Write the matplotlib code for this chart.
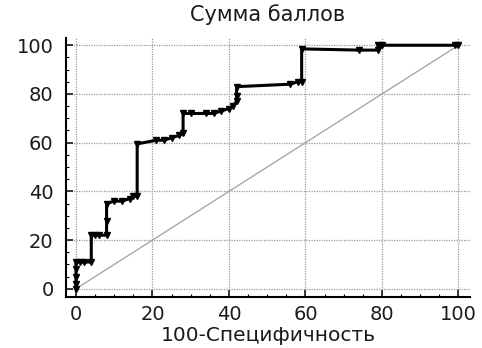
import numpy as np
import matplotlib
matplotlib.use("Agg")
import matplotlib.pyplot as plt
from matplotlib.ticker import MultipleLocator

# ----------------- data -----------------
fpr = [0, 0, 0, 0, 0, 1, 2, 4, 4, 5, 6, 8, 8, 8, 10, 12, 14, 15, 16,
       16, 21, 23, 25, 27, 28, 28, 30, 34, 36, 38, 40, 41, 42, 42, 42,
       56, 58, 59, 59, 74, 79, 79, 80, 99, 100]
tpr = [0, 2, 5, 8, 11, 11, 11, 11, 22, 22, 22, 22, 28, 35, 36, 36, 37, 38, 38,
       59.5, 61, 61, 62, 63, 64, 72, 72, 72, 72, 73, 74, 75, 77, 79, 83,
       84, 85, 85, 98.5, 98, 98, 100, 100, 100, 100]

title = "Сумма баллов"
xlabel = "100-Специфичность"
ticks = [0, 20, 40, 60, 80, 100]

plt.rcParams["font.family"] = ["DejaVu Sans"]

fig = plt.figure(figsize=(4.82, 3.48), dpi=100)
ax = fig.add_axes([0.137, 0.147, 0.838, 0.744])

ax.plot([0, 100], [0, 100], color="#a0a0a0", lw=0.9, zorder=2)
ax.plot(fpr, tpr, color="black", lw=2.2, marker="v", ms=5,
        mfc="black", mec="black", zorder=3)

ax.set_xlim(-2.6, 103)
ax.set_ylim(-3.3, 103)
ax.set_xticks(ticks)
ax.set_yticks(ticks)
ax.xaxis.set_minor_locator(MultipleLocator(5))
ax.yaxis.set_minor_locator(MultipleLocator(5))
ax.tick_params(axis="both", which="major", direction="in", length=5,
               width=1.2, labelsize=14, colors="#1a1a1a")
ax.tick_params(axis="x", which="major", pad=6)
ax.tick_params(axis="y", which="major", pad=9)
ax.tick_params(axis="both", which="minor", direction="in", length=2.5,
               width=0.8)

ax.grid(True, which="major", color="#9a9a9a", linestyle=(0, (1, 1)), lw=0.9)
ax.set_axisbelow(True)

for side in ["top", "right"]:
    ax.spines[side].set_visible(False)
for side in ["left", "bottom"]:
    ax.spines[side].set_linewidth(1.5)

ax.set_title(title, fontsize=15, pad=12, color="#1a1a1a")
ax.set_xlabel(xlabel, fontsize=14.5, labelpad=1, color="#1a1a1a")

fig.savefig("out.png", dpi=100)
